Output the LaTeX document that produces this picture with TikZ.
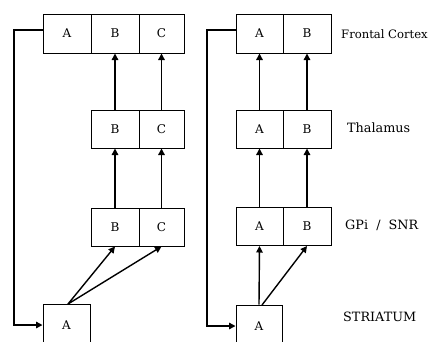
\documentclass[tikz,border=0pt]{standalone}
\usepackage{fontspec}
\setmainfont{DejaVu Serif}
\usetikzlibrary{arrows.meta}
\begin{document}
\begin{tikzpicture}[x=1pt,y=-1pt,
  cell/.style={draw, line width=1pt, inner sep=0pt, font=\fontsize{12}{14}\selectfont},
  w48/.style={minimum width=48pt},
  w45/.style={minimum width=45pt},
  w47/.style={minimum width=47pt},
  h39/.style={minimum height=39pt},
  h38/.style={minimum height=38pt},
  conn/.style={line width=1.4pt, -{Triangle[length=6.5pt,width=6.5pt]}},
  lab/.style={anchor=west, inner sep=0pt, font=\fontsize{12.8}{15}\selectfont}]
\useasboundingbox (0,0) rectangle (430,341);
\clip (0,0) rectangle (430,341);
% ---------- left panel ----------
\node[cell,w48,h39] (LFA) at (67,33.5) {A};
\node[cell,w48,h39] (LFB) at (115,33.5) {B};
\node[cell,w45,h39] (LFC) at (161.5,33.5) {C};
\node[cell,w48,h38] (LTB) at (115,129) {B};
\node[cell,w45,h38] (LTC) at (161.5,129) {C};
\node[cell,w48,h38] (LGB) at (115,227) {B};
\node[cell,w45,h38] (LGC) at (161.5,227) {C};
\node[cell,w47,minimum height=42pt] (LSA) at (66.5,325) {A};
\coordinate (LSo) at (68,304);
\draw[conn] (LTB.north) -- (LFB.south);
\draw[conn] (LTC.north) -- (LFC.south);
\draw[conn] (LGB.north) -- (LTB.south);
\draw[conn] (LGC.north) -- (LTC.south);
\draw[conn] (LSo) -- (LGB.south);
\draw[conn] (LSo) -- (LGC.south);
\coordinate (LFs) at (43,30);
\coordinate (LFb) at (14,30);
\draw[conn] (LFs) -- (LFb) |- (LSA.west);
% ---------- right panel ----------
\node[cell,w47,h39] (RFA) at (259.5,33.5) {A};
\node[cell,w48,h39] (RFB) at (307,33.5) {B};
\node[cell,w47,h38] (RTA) at (259.5,129) {A};
\node[cell,w48,h38] (RTB) at (307,129) {B};
\node[cell,w47,h38] (RGA) at (259.5,226.5) {A};
\node[cell,w48,h38] (RGB) at (307,226.5) {B};
\node[cell,minimum width=46pt,minimum height=42pt] (RSA) at (259,326) {A};
\coordinate (RSo) at (262,305);
\draw[conn] (RTA.north) -- (RFA.south);
\draw[conn] (RTB.north) -- (RFB.south);
\draw[conn] (RGA.north) -- (RTA.south);
\draw[conn] (RGB.north) -- (RTB.south);
\draw[conn] (RSA.north) -- (RGA.south);
\draw[conn] (RSo) -- (RGB.south);
\coordinate (RFs) at (236,30);
\coordinate (RFb) at (207,30);
\draw[conn] (RFs) -- (RFb) |- (RSA.west);
% ---------- labels ----------
\node[lab, font=\fontsize{11.6}{14}\selectfont] (lfc) at (341,34) {Frontal Cortex};
\node[lab] (lth) at (347,128) {Thalamus};
\node[lab] (lgp) at (345,225) {GPi~~/~~SNR};
\node[lab] (lst) at (343,317) {STRIATUM};
\end{tikzpicture}
\end{document}
